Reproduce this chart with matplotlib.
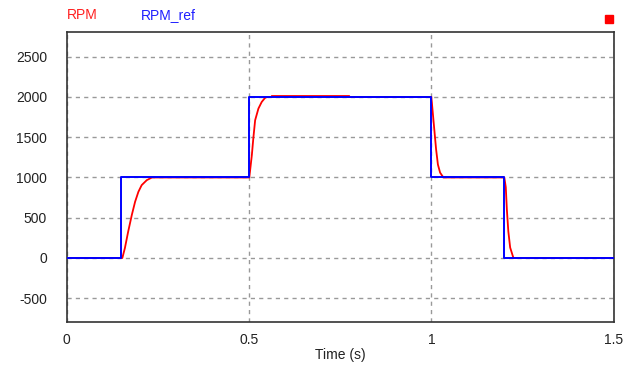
import matplotlib
matplotlib.use("Agg")
import matplotlib.pyplot as plt

plt.rcParams['font.family'] = ['Liberation Sans', 'DejaVu Sans']
plt.rcParams['axes.unicode_minus'] = False

# reference speed (step changes)
ref_t = [0.0, 0.15, 0.5, 1.0, 1.2, 1.5]
ref_v = [0, 1000, 2000, 1000, 0, 0]

# measured speed
rpm_t = [0.0, 0.153, 0.160, 0.169, 0.179, 0.188, 0.197, 0.206, 0.220, 0.234,
         0.501, 0.508, 0.512, 0.517, 0.526, 0.535, 0.544, 0.550,
         0.5625, 0.5625, 0.775, 0.775,
         1.000, 1.003, 1.008, 1.013, 1.018, 1.024, 1.033,
         1.200, 1.204, 1.207, 1.211, 1.216, 1.225, 1.5]
rpm_v = [0, 0, 123, 328, 535, 699, 822, 905, 967, 1000,
         1000, 1279, 1485, 1711, 1856, 1938, 1988, 2000,
         2000, 2012, 2012, 2000,
         2000, 1850, 1600, 1350, 1160, 1060, 1000,
         1000, 880, 600, 330, 130, 0, 0]

yticks = [-500, 0, 500, 1000, 1500, 2000, 2500]
xticks = [0, 0.5, 1, 1.5]

fig = plt.figure(figsize=(6.24, 3.65), dpi=100)
ax = fig.add_axes([0.1066, 0.1178, 0.877, 0.7952])

ax.plot(rpm_t, rpm_v, color='#ff0000', lw=1.3, zorder=3)
ax.plot(ref_t, ref_v, drawstyle='steps-post', color='#0000ff', lw=1.4, zorder=4)

ax.set_xlim(0, 1.5)
ax.set_ylim(-795, 2810)
ax.set_xticks(xticks)
ax.set_xticklabels(['0', '0.5', '1', '1.5'])
ax.set_yticks(yticks)
ax.tick_params(length=0, labelsize=10, colors='#222222', pad=14)
ax.tick_params(axis='x', pad=8)
ax.grid(True, color='#999999', linestyle=(0, (3, 3)), lw=1.0)
for s in ax.spines.values():
    s.set_color('#333333')
    s.set_linewidth(1.2)

fig.text(0.545, 0.027, 'Time (s)', fontsize=10, color='#222222', ha='center', va='center')
fig.text(0.107, 0.96, 'RPM', fontsize=10, color='#ff2020', va='center')
fig.text(0.225, 0.96, 'RPM_ref', fontsize=10, color='#2020ff', va='center')
fig.patches.append(plt.Rectangle((0.970, 0.937), 0.013, 0.022, transform=fig.transFigure,
                                 color='#ff0000', figure=fig))

fig.savefig('out.png', dpi=100)
